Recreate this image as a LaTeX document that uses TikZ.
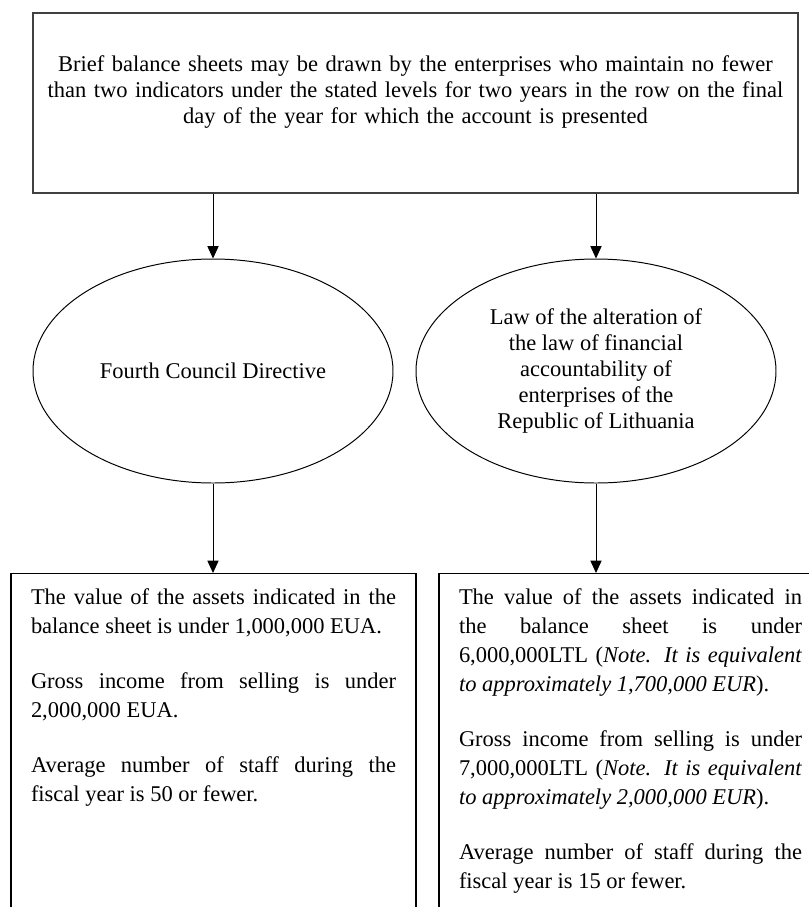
\documentclass[tikz,border=0pt]{standalone}
\usepackage{fontspec}
\setmainfont{Liberation Serif}
\usetikzlibrary{arrows.meta,positioning,shapes.geometric}
\tolerance=10000
\hbadness=10000
\hyphenpenalty=10000

\begin{document}
\begin{tikzpicture}[
    lbtop/.style={draw=black!75,line width=1.2pt,anchor=north,inner sep=0pt,
        align=center,text width=19.125cm,font=\fontsize{16}{18.5}\selectfont},
    lbellipse/.style={ellipse,draw,line width=0.7pt,minimum width=9cm,
        minimum height=5.6cm,inner sep=0pt,align=center,
        font=\fontsize{16}{18.5}\selectfont},
    lbcriteria/.style={draw,line width=1pt,anchor=north,inner xsep=0.5cm,
        inner ysep=0pt,align=justify,text height=0.775cm,text depth=9cm,
        font=\fontsize{16}{20.6}\selectfont},
    lbarrow/.style={-{Triangle[length=3.1mm,width=2.8mm]},line width=0.7pt}
]
\useasboundingbox (0,0) rectangle (20.225,-22.675);
\node[lbtop,text height=1.475cm,text depth=3.025cm] (brief) at (10.3875,-0.3)
    {Brief balance sheets may be drawn by the enterprises who maintain no fewer\\
     than two indicators under the stated levels for two years in the row on the final\\
     day of the year for which the account is presented};
\node[lbellipse] (council) at (5.325,-9.275) {Fourth Council Directive};
\node[lbellipse] (law) at (14.9,-9.275)
    {Law of the alteration of\\the law of financial\\accountability of\\
     enterprises of the\\Republic of Lithuania};
\node[lbcriteria,text width=9.125cm] (eu) at (5.3375,-14.325)
    {The value of the assets indicated in the\linebreak
     balance sheet is under 1,000,000 EUA.\\[0.65cm]
     Gross income from selling is under\linebreak
     2,000,000 EUA.\\[0.65cm]
     Average number of staff during the\linebreak
     fiscal year is 50 or fewer.};
\node[lbcriteria,text width=8.575cm] (lt) at (15.7625,-14.325)
    {The value of the assets indicated in\linebreak
     the balance sheet is under\linebreak
     6,000,000LTL (\textit{Note. It is equivalent}\linebreak
     \textit{to approximately 1,700,000 EUR}).\\[0.65cm]
     Gross income from selling is under\linebreak
     7,000,000LTL (\textit{Note. It is equivalent}\linebreak
     \textit{to approximately 2,000,000 EUR}).\\[0.65cm]
     Average number of staff during the\linebreak
     fiscal year is 15 or fewer.};
\draw[lbarrow] (brief.south -| council.north)--(council.north);
\draw[lbarrow] (brief.south -| law.north)--(law.north);
\draw[lbarrow] (council.south)--(council.south |- eu.north);
\draw[lbarrow] (law.south)--(law.south |- lt.north);
\end{tikzpicture}
\end{document}
